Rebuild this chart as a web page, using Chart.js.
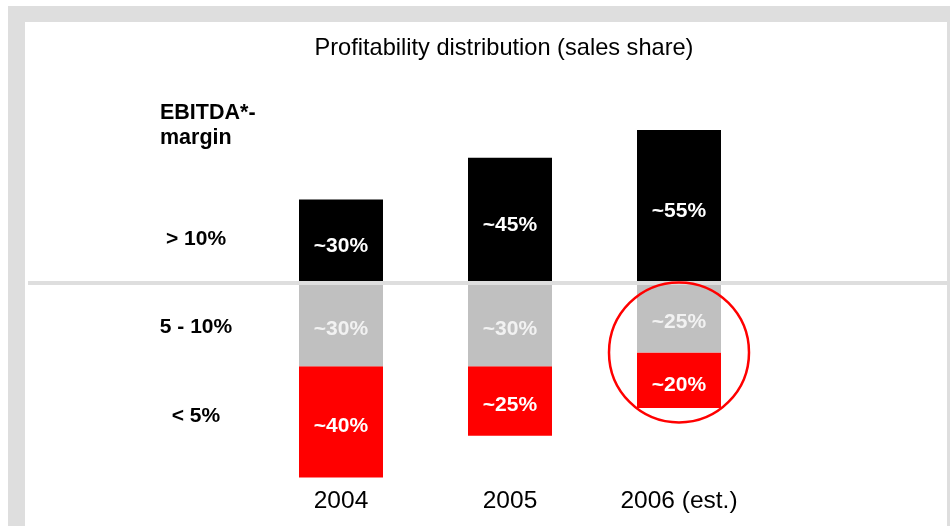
<!DOCTYPE html>
<html>
<head>
<meta charset="utf-8">
<script src="https://cdn.jsdelivr.net/npm/chart.js@4"></script>
<style>
  html, body { margin: 0; padding: 0; background: #fff; }
  #frame { position: absolute; left: 8px; top: 6px; width: 942px; height: 520px; background: #dedede; }
  #box { position: absolute; left: 17px; top: 16px; width: 922px; height: 504px; background: #fff; }
</style>
</head>
<body>
<div id="frame"><div id="box"><canvas id="myChart" width="922" height="504"></canvas></div></div>
<script>
const years = ['2004', '2005', '2006 (est.)'];
const highMargin = [30, 45, 55];     // > 10%
const midMargin = [30, 30, 25];      // 5 - 10%
const lowMargin = [40, 25, 20];      // < 5%
const rowLabels = ['> 10%', '5 - 10%', '< 5%'];
const titleText = 'Profitability distribution (sales share)';
const sideTitle = ['EBITDA*-', 'margin'];

const FONT = '"Liberation Sans", Arial, sans-serif';

const overlay = {
    id: 'overlay',
    afterDatasetsDraw(chart) {
        const ctx = chart.ctx;
        const x = chart.scales.x, y = chart.scales.y;
        ctx.save();

        // segment labels
        ctx.font = 'bold 21px ' + FONT;
        ctx.textAlign = 'center';
        ctx.textBaseline = 'middle';
        chart.data.datasets.forEach(function (ds, i) {
            chart.getDatasetMeta(i).data.forEach(function (bar, j) {
                ctx.fillStyle = ds.labelColor;
                ctx.fillText('~' + Math.abs(ds.data[j]) + '%', bar.x, (bar.y + bar.base) / 2 + 4.5);
            });
        });

        // zero line across the panel
        const y0 = y.getPixelForValue(0);
        ctx.strokeStyle = '#dedede';
        ctx.lineWidth = 4;
        ctx.beginPath();
        ctx.moveTo(3, y0);
        ctx.lineTo(chart.width, y0);
        ctx.stroke();

        // highlight circle around 2006 lower part
        ctx.strokeStyle = '#ff0000';
        ctx.lineWidth = 2.5;
        ctx.beginPath();
        ctx.arc(x.getPixelForValue(2), y.getPixelForValue(-25), 70, 0, Math.PI * 2);
        ctx.stroke();

        // title
        ctx.fillStyle = '#000';
        ctx.font = '23.6px ' + FONT;
        ctx.textBaseline = 'alphabetic';
        ctx.fillText(titleText, 479, 33);

        // left side labels
        ctx.font = 'bold 21.5px ' + FONT;
        ctx.textAlign = 'left';
        ctx.fillText(sideTitle[0], 135, 97);
        ctx.fillText(sideTitle[1], 135, 122);
        ctx.font = 'bold 21px ' + FONT;
        ctx.textAlign = 'center';
        const rowVals = [13.5, -18, -50];
        rowLabels.forEach(function (t, i) {
            ctx.fillText(t, 171, y.getPixelForValue(rowVals[i]));
        });
        ctx.restore();
    }
};

new Chart(document.getElementById('myChart'), {
    type: 'bar',
    data: {
        labels: years,
        datasets: [{
            label: '> 10%',
            data: highMargin,
            backgroundColor: '#000000',
            labelColor: '#ffffff'
        }, {
            label: '5 - 10%',
            data: midMargin.map(v => -v),
            backgroundColor: '#c0c0c0',
            labelColor: '#f2f2f2'
        }, {
            label: '< 5%',
            data: lowMargin.map(v => -v),
            backgroundColor: '#ff0000',
            labelColor: '#ffffff'
        }]
    },
    options: {
        responsive: false,
        animation: false,
        layout: { padding: { top: 88.6, left: 231.5, right: 183.5, bottom: 7 } },
        datasets: { bar: { categoryPercentage: 1, barPercentage: 0.497, borderWidth: 0, clip: false } },
        scales: {
            x: {
                stacked: true,
                border: { display: false },
                grid: { display: false },
                ticks: { color: '#000', padding: 3, font: { family: FONT, size: 24.5 } }
            },
            y: {
                stacked: true,
                display: false,
                min: -69.3,
                max: 62
            }
        },
        plugins: {
            legend: { display: false },
            tooltip: { enabled: false }
        }
    },
    plugins: [overlay]
});
</script>
</body>
</html>
